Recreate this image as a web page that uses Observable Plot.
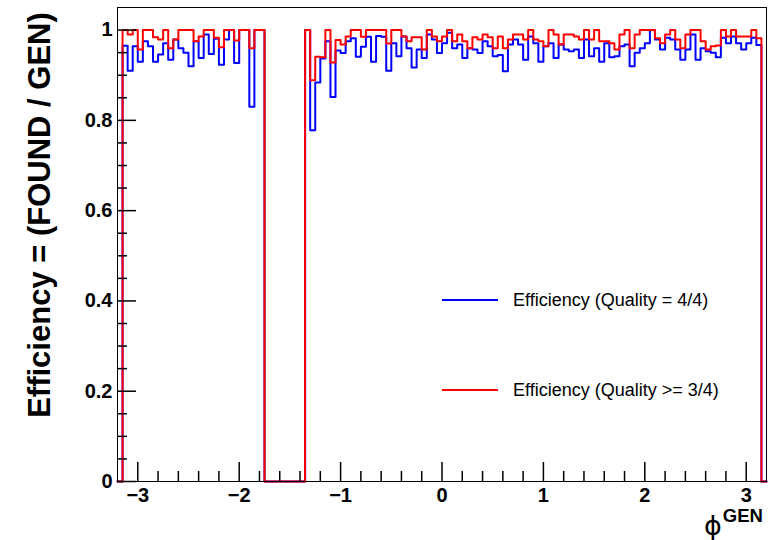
<!DOCTYPE html>
<html>
<head>
<meta charset="utf-8">
<script src="https://cdn.jsdelivr.net/npm/d3@7"></script>
<script src="https://cdn.jsdelivr.net/npm/@observablehq/plot@0.6"></script>
<style>
  html, body { margin: 0; padding: 0; background: white; }
  #wrap { position: relative; width: 782px; height: 540px; font-family: "Liberation Sans", Arial, sans-serif; }
  #ytitle { position: absolute; left: 40px; top: 215px; transform: translate(-50%, -50%) rotate(-90deg); white-space: nowrap; font-weight: bold; font-size: 31px; }
  #xtitle { position: absolute; left: 704px; top: 512px; white-space: nowrap; line-height: 1; }
  #xtitle .phi { font-size: 27px; font-family: "DejaVu Sans", sans-serif; }
  #xtitle .sup { font-size: 18.5px; font-weight: bold; position: relative; top: -13px; left: 1px; }
  .leg { position: absolute; left: 442px; font-size: 18px; white-space: nowrap; display: flex; align-items: center; height: 20px; }
  .leg .sw { display: inline-block; width: 56px; height: 0; border-top: 2px solid; margin-right: 15px; }
</style>
</head>
<body>
<div id="wrap"></div>
<script>
// Histogram binning: 128 bins of 0.05 from -3.2 to 3.2
const xMin = -3.2, xMax = 3.2, nBins = 128;
const yMin = 0, yMax = 1.05;

// Efficiency (Quality = 4/4) per bin
const effQ4 = [
  0, 0.965, 0.91, 0.964, 0.93, 0.975, 0.964, 0.93, 0.946, 0.971,
  0.934, 0.979, 0.96, 0.95, 0.92, 0.975, 0.938, 0.99, 0.947, 0.981,
  0.923, 0.979, 1.0, 0.927, 1.0, 1.0, 0.83, 1.0, 1.0, 0,
  0, 0, 0, 0, 0, 0, 0, 1.0, 0.778, 0.884,
  0.937, 0.975, 0.852, 0.955, 0.949, 0.975, 0.982, 0.941, 0.963, 0.985,
  0.93, 0.987, 0.985, 0.91, 0.971, 0.942, 0.986, 0.96, 0.917, 0.957,
  0.938, 0.99, 0.979, 0.949, 0.971, 0.994, 0.96, 0.968, 0.938, 0.96,
  0.957, 0.949, 0.975, 0.964, 0.942, 0.945, 0.909, 0.968, 0.979, 0.968,
  0.934, 0.986, 0.971, 0.93, 0.964, 0.971, 0.938, 0.968, 0.957, 0.953,
  0.957, 0.938, 0.979, 0.942, 0.96, 0.93, 0.971, 0.94, 0.942, 0.964,
  0.968, 0.92, 0.95, 0.96, 0.971, 1.0, 0.979, 0.957, 0.983, 0.979,
  0.957, 0.934, 0.957, 0.99, 0.934, 0.96, 0.953, 0.95, 0.94, 0.983,
  0.971, 0.986, 0.971, 0.957, 0.971, 0.983, 0.967, 0
];

// Efficiency (Quality >= 3/4) per bin
const effQ3 = [
  0, 1.0, 0.99, 1.0, 0.957, 1.0, 1.0, 0.984, 0.979, 1.0,
  0.96, 0.979, 1.0, 1.0, 1.0, 0.975, 0.986, 1.0, 1.0, 0.983,
  0.962, 1.0, 1.0, 0.977, 1.0, 1.0, 0.96, 1.0, 1.0, 0,
  0, 0, 0, 0, 0, 0, 0, 1.0, 0.889, 0.941,
  0.94, 1.0, 0.928, 0.978, 0.968, 0.986, 1.0, 1.0, 0.985, 1.0,
  1.0, 1.0, 1.0, 0.97, 1.0, 1.0, 0.986, 0.975, 0.984, 0.984,
  0.957, 1.0, 0.986, 0.975, 0.986, 1.0, 0.975, 0.99, 0.975, 0.96,
  0.984, 0.979, 0.99, 0.984, 0.96, 0.986, 0.96, 0.979, 0.99, 0.99,
  0.979, 1.0, 0.979, 0.975, 0.964, 1.0, 0.99, 0.968, 0.99, 0.99,
  0.986, 0.979, 1.0, 0.979, 1.0, 0.975, 0.975, 0.971, 0.957, 0.99,
  1.0, 0.96, 0.99, 1.0, 1.0, 1.0, 0.982, 0.971, 0.99, 1.0,
  0.979, 0.96, 0.99, 1.0, 1.0, 0.975, 0.957, 0.964, 0.966, 1.0,
  0.986, 1.0, 0.986, 0.986, 0.986, 1.0, 0.982, 0
];

// Tick values and labels
const xMajor = [-3, -2, -1, 0, 1, 2, 3];
const xMajorLabels = ["\u22123", "\u22122", "\u22121", "0", "1", "2", "3"];
const xMinor = [-3.0, -2.8, -2.6, -2.4, -2.2, -1.8, -1.6, -1.4, -1.2, -0.8, -0.6, -0.4, -0.2,
                0.2, 0.4, 0.6, 0.8, 1.2, 1.4, 1.6, 1.8, 2.2, 2.4, 2.6, 2.8, 3.0].filter(v => !xMajor.includes(v));
const yMajor = [0, 0.2, 0.4, 0.6, 0.8, 1];
const yMajorLabels = ["0", "0.2", "0.4", "0.6", "0.8", "1"];
const yMinor = [0.05, 0.1, 0.15, 0.25, 0.3, 0.35, 0.45, 0.5, 0.55, 0.65, 0.7, 0.75, 0.85, 0.9, 0.95];

const legendLabels = ["Efficiency (Quality = 4/4)", "Efficiency (Quality >= 3/4)"];
const colors = ["#0000ff", "#ff0000"];

const binW = (xMax - xMin) / nBins;
function steps(vals) {
  const pts = vals.map((v, i) => ({x: xMin + i * binW, y: v}));
  pts.push({x: xMax, y: vals[vals.length - 1]});
  return pts;
}

const W = 782, H = 540, mL = 117, mR = 16, mT = 7, mB = 59;
const innerW = W - mL - mR, innerH = H - mT - mB;

const chart = Plot.plot({
  width: W, height: H,
  marginLeft: mL, marginRight: mR, marginTop: mT, marginBottom: mB,
  x: {domain: [xMin, xMax]},
  y: {domain: [yMin, yMax]},
  style: {fontFamily: "'Liberation Sans', Arial, sans-serif", background: "white", color: "black"},
  marks: [
    Plot.lineY(steps(effQ4), {x: "x", y: "y", curve: "step-after", stroke: colors[0], strokeWidth: 2}),
    Plot.lineY(steps(effQ3), {x: "x", y: "y", curve: "step-after", stroke: colors[1], strokeWidth: 2}),
    Plot.frame({stroke: "black", strokeWidth: 1}),
    Plot.tickX(xMajor, {x: d => d, insetTop: innerH - 19, stroke: "black", strokeWidth: 1.5}),
    Plot.tickX(xMinor, {x: d => d, insetTop: innerH - 10, stroke: "black", strokeWidth: 1.5}),
    Plot.tickY(yMajor, {y: d => d, insetRight: innerW - 19, stroke: "black", strokeWidth: 1.5}),
    Plot.tickY(yMinor, {y: d => d, insetRight: innerW - 10, stroke: "black", strokeWidth: 1.5}),
    Plot.axisX({ticks: xMajor, tickSize: 0, tickPadding: 6, fontSize: 20, fontWeight: "bold", label: null,
      tickFormat: d => xMajorLabels[xMajor.indexOf(d)]}),
    Plot.axisY({ticks: yMajor, tickSize: 0, tickPadding: 5, fontSize: 20, fontWeight: "bold", label: null,
      tickFormat: d => yMajorLabels[yMajor.indexOf(d)]})
  ]
});

const wrap = document.getElementById("wrap");
wrap.appendChild(chart);

const yt = document.createElement("div");
yt.id = "ytitle";
yt.textContent = "Efficiency = (FOUND / GEN)";
wrap.appendChild(yt);

const xt = document.createElement("div");
xt.id = "xtitle";
xt.innerHTML = '<span class="phi">\u03d5</span><span class="sup">GEN</span>';
wrap.appendChild(xt);

const legTops = [300, 390];
legendLabels.forEach((lab, i) => {
  const d = document.createElement("div");
  d.className = "leg";
  d.style.top = (legTops[i] - 10) + "px";
  d.innerHTML = `<span class="sw" style="border-color:${colors[i]}"></span><span>${lab}</span>`;
  wrap.appendChild(d);
});
</script>
</body>
</html>
